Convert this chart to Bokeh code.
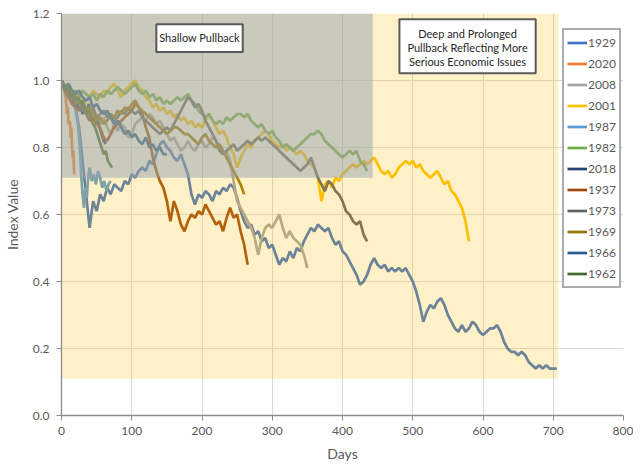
from bokeh.plotting import figure
from bokeh.models import Legend, LegendItem, Label, FixedTicker, NumeralTickFormatter, Range1d
from bokeh.embed import file_html
from bokeh.resources import INLINE

# ---------------- data ----------------
YEARS = ["1929", "2020", "2008", "2001", "1987", "1982", "2018", "1937", "1973", "1969", "1966", "1962"]
COLORS = ["#4472C4", "#ED7D31", "#A5A5A5", "#FFC000", "#5B9BD5", "#70AD47",
          "#264478", "#9E480E", "#636363", "#997300", "#255E91", "#43682B"]
X_TICKS = [0, 100, 200, 300, 400, 500, 600, 700, 800]
Y_TICKS = [0.0, 0.2, 0.4, 0.6, 0.8, 1.0, 1.2]

# index values sampled every 5 trading days
v_1929 = [1.00, 0.98, 0.95, 0.96, 0.92, 0.86, 0.76, 0.66, 0.56, 0.64,
          0.61, 0.66, 0.64, 0.68, 0.66, 0.69, 0.68, 0.67, 0.70, 0.69,
          0.72, 0.71, 0.73, 0.74, 0.73, 0.76, 0.75, 0.78, 0.81, 0.82,
          0.80, 0.79, 0.77, 0.76, 0.78, 0.75, 0.72, 0.66, 0.63, 0.66,
          0.65, 0.67, 0.66, 0.64, 0.67, 0.66, 0.68, 0.67, 0.69, 0.68,
          0.65, 0.61, 0.58, 0.56, 0.57, 0.54, 0.55, 0.52, 0.53, 0.50,
          0.51, 0.48, 0.45, 0.47, 0.46, 0.49, 0.47, 0.50, 0.49, 0.52,
          0.54, 0.56, 0.55, 0.57, 0.56, 0.55, 0.56, 0.53, 0.51, 0.52,
          0.49, 0.48, 0.46, 0.44, 0.42, 0.39, 0.40, 0.42, 0.45, 0.47,
          0.45, 0.44, 0.45, 0.43, 0.44, 0.43, 0.44, 0.43, 0.44, 0.42,
          0.40, 0.37, 0.33, 0.28, 0.31, 0.33, 0.32, 0.34, 0.35, 0.33,
          0.30, 0.28, 0.26, 0.25, 0.27, 0.25, 0.26, 0.28, 0.27, 0.25,
          0.24, 0.25, 0.26, 0.26, 0.27, 0.25, 0.22, 0.20, 0.19, 0.19,
          0.18, 0.19, 0.18, 0.16, 0.15, 0.14, 0.15, 0.14, 0.15, 0.14,
          0.14, 0.14]
v_2001 = [1.00, 0.97, 0.95, 0.96, 0.93, 0.95, 0.92, 0.94, 0.95, 0.97,
          0.96, 0.95, 0.97, 0.96, 0.98, 0.99, 0.97, 0.95, 0.97, 0.98,
          0.99, 1.00, 0.98, 0.97, 0.95, 0.94, 0.92, 0.93, 0.91, 0.92,
          0.90, 0.91, 0.89, 0.90, 0.88, 0.89, 0.87, 0.88, 0.86, 0.87,
          0.86, 0.88, 0.90, 0.88, 0.86, 0.84, 0.85, 0.83, 0.80, 0.78,
          0.74, 0.77, 0.79, 0.81, 0.80, 0.82, 0.83, 0.84, 0.85, 0.84,
          0.82, 0.81, 0.80, 0.81, 0.79, 0.80, 0.79, 0.78, 0.79, 0.78,
          0.76, 0.75, 0.74, 0.71, 0.64, 0.69, 0.70, 0.68, 0.71, 0.70,
          0.72, 0.73, 0.74, 0.75, 0.74, 0.75, 0.76, 0.75, 0.76, 0.77,
          0.75, 0.73, 0.72, 0.73, 0.71, 0.72, 0.74, 0.75, 0.76, 0.75,
          0.76, 0.74, 0.75, 0.73, 0.72, 0.71, 0.72, 0.73, 0.71, 0.69,
          0.70, 0.67, 0.66, 0.64, 0.62, 0.58, 0.52]
v_2008 = [1.00, 0.98, 0.96, 0.97, 0.94, 0.92, 0.94, 0.91, 0.89, 0.91,
          0.88, 0.87, 0.89, 0.86, 0.84, 0.87, 0.85, 0.87, 0.86, 0.83,
          0.84, 0.87, 0.88, 0.89, 0.88, 0.90, 0.89, 0.87, 0.88, 0.86,
          0.84, 0.82, 0.83, 0.81, 0.79, 0.80, 0.82, 0.80, 0.79, 0.81,
          0.82, 0.80, 0.81, 0.83, 0.82, 0.80, 0.78, 0.79, 0.76, 0.70,
          0.64, 0.62, 0.60, 0.58, 0.56, 0.53, 0.48, 0.53, 0.56, 0.57,
          0.56, 0.58, 0.60, 0.56, 0.53, 0.55, 0.53, 0.52, 0.51, 0.48,
          0.44]
v_1982 = [1.00, 0.98, 0.99, 0.96, 0.97, 0.95, 0.97, 0.96, 0.95, 0.96,
          0.94, 0.96, 0.95, 0.97, 0.96, 0.97, 0.98, 0.97, 0.96, 0.97,
          0.98, 0.99, 0.97, 0.96, 0.97, 0.95, 0.96, 0.94, 0.95, 0.93,
          0.94, 0.93, 0.94, 0.95, 0.94, 0.95, 0.96, 0.94, 0.93, 0.91,
          0.90, 0.89, 0.90, 0.88, 0.87, 0.88, 0.87, 0.89, 0.88, 0.89,
          0.90, 0.90, 0.89, 0.90, 0.88, 0.87, 0.86, 0.87, 0.85, 0.84,
          0.85, 0.83, 0.82, 0.80, 0.81, 0.80, 0.79, 0.80, 0.81, 0.82,
          0.83, 0.84, 0.84, 0.85, 0.84, 0.82, 0.81, 0.80, 0.79, 0.78,
          0.77, 0.78, 0.79, 0.78, 0.79, 0.76, 0.75, 0.73]
v_1973 = [1.00, 0.97, 0.95, 0.96, 0.93, 0.94, 0.91, 0.92, 0.90, 0.92,
          0.89, 0.90, 0.91, 0.89, 0.90, 0.88, 0.89, 0.91, 0.90, 0.92,
          0.91, 0.90, 0.91, 0.89, 0.88, 0.87, 0.86, 0.85, 0.84, 0.85,
          0.86, 0.85, 0.87, 0.89, 0.91, 0.93, 0.95, 0.94, 0.92, 0.93,
          0.91, 0.88, 0.86, 0.84, 0.82, 0.79, 0.78, 0.79, 0.80, 0.81,
          0.79, 0.80, 0.81, 0.82, 0.81, 0.82, 0.83, 0.82, 0.83, 0.82,
          0.81, 0.80, 0.79, 0.78, 0.77, 0.76, 0.75, 0.74, 0.73, 0.74,
          0.75, 0.77, 0.74, 0.71, 0.69, 0.67, 0.70, 0.69, 0.67, 0.66,
          0.64, 0.61, 0.60, 0.58, 0.57, 0.58, 0.54, 0.52]
v_1937 = [1.00, 0.97, 0.95, 0.93, 0.92, 0.91, 0.93, 0.90, 0.88, 0.89,
          0.87, 0.86, 0.83, 0.82, 0.84, 0.86, 0.87, 0.88, 0.89, 0.90,
          0.91, 0.93, 0.92, 0.90, 0.86, 0.83, 0.77, 0.73, 0.70, 0.68,
          0.64, 0.58, 0.64, 0.61, 0.57, 0.55, 0.58, 0.60, 0.59, 0.61,
          0.60, 0.63, 0.61, 0.59, 0.57, 0.58, 0.55, 0.59, 0.62, 0.59,
          0.60, 0.55, 0.51, 0.45]
v_1969 = [1.00, 0.98, 0.96, 0.97, 0.95, 0.93, 0.94, 0.91, 0.92, 0.90,
          0.88, 0.89, 0.87, 0.88, 0.90, 0.89, 0.91, 0.90, 0.92, 0.91,
          0.93, 0.94, 0.92, 0.91, 0.90, 0.89, 0.88, 0.87, 0.86, 0.85,
          0.84, 0.85, 0.86, 0.86, 0.85, 0.84, 0.84, 0.83, 0.82, 0.81,
          0.83, 0.84, 0.82, 0.81, 0.80, 0.81, 0.79, 0.77, 0.75, 0.73,
          0.71, 0.69, 0.66]
v_1966 = [1.00, 0.98, 0.99, 0.97, 0.96, 0.97, 0.95, 0.94, 0.95, 0.92,
          0.93, 0.91, 0.90, 0.91, 0.89, 0.87, 0.88, 0.86, 0.84, 0.85,
          0.83, 0.84, 0.82, 0.81, 0.83, 0.80, 0.81, 0.79, 0.80, 0.78,
          0.78]
# index values sampled every 3 trading days
v_2018 = [1.00, 0.99, 0.97, 0.98, 0.95, 0.96, 0.93, 0.94, 0.91, 0.92,
          0.90, 0.92, 0.91, 0.93, 0.90, 0.91, 0.88, 0.89, 0.86, 0.84,
          0.82, 0.81]
v_1962 = [1.00, 0.99, 0.97, 0.98, 0.96, 0.95, 0.96, 0.94, 0.95, 0.93,
          0.94, 0.92, 0.90, 0.91, 0.89, 0.87, 0.86, 0.84, 0.82, 0.80,
          0.78, 0.79, 0.76, 0.75, 0.74]
# irregularly sampled short series
d_2020 = [0, 2, 4, 6, 8, 9, 10, 12, 13, 14, 15, 16, 17, 18]
v_2020 = [1.00, 0.98, 0.97, 0.95, 0.90, 0.92, 0.87, 0.88, 0.83, 0.86, 0.80, 0.77, 0.79, 0.72]
d_1987 = [0, 3, 6, 9, 12, 15, 18, 21, 24, 26, 28, 30, 32, 34, 36, 38, 40, 43, 46, 49,
          52, 55, 58, 61, 64, 67, 70]
v_1987 = [1.00, 0.98, 0.97, 0.95, 0.96, 0.93, 0.94, 0.90, 0.86, 0.80, 0.72, 0.66, 0.62, 0.68,
          0.65, 0.71, 0.74, 0.70, 0.72, 0.69, 0.73, 0.71, 0.68, 0.70, 0.67, 0.69, 0.70]


def every(step, vals):
    return [i * step for i in range(len(vals))]


SERIES = {
    "1929": (every(5, v_1929), v_1929),
    "2020": (d_2020, v_2020),
    "2008": (every(5, v_2008), v_2008),
    "2001": (every(5, v_2001), v_2001),
    "1987": (d_1987, v_1987),
    "1982": (every(5, v_1982), v_1982),
    "2018": (every(3, v_2018), v_2018),
    "1937": (every(5, v_1937), v_1937),
    "1973": (every(5, v_1973), v_1973),
    "1969": (every(5, v_1969), v_1969),
    "1966": (every(5, v_1966), v_1966),
    "1962": (every(3, v_1962), v_1962),
}

FONT = "Lato"
TXT = "#595959"

p = figure(frame_width=562, frame_height=402, min_border_left=52, min_border_right=10,
           min_border_top=13, min_border_bottom=42, output_backend="svg",
           toolbar_location=None, x_range=Range1d(0, 800), y_range=Range1d(0, 1.2))
p.outline_line_color = None
p.background_fill_color = "white"
p.border_fill_color = "white"

items = []
for year, color in zip(YEARS, COLORS):
    xs, ys = SERIES[year]
    r = p.line(xs, ys, line_color=color, line_width=2.7)
    items.append(LegendItem(label=year, renderers=[r]))

# translucent shaded zones drawn on top of the lines
p.quad(left=0, right=707, bottom=0.11, top=1.2, fill_color="#FFC000", fill_alpha=0.22, line_color=None)
p.quad(left=0, right=443, bottom=0.71, top=1.2, fill_color="#93A1B1", fill_alpha=0.5, line_color=None)

# annotation boxes
p.quad(left=135, right=258, bottom=1.085, top=1.168, fill_color="white",
       line_color="#595959", line_width=2)
p.quad(left=481, right=675, bottom=1.022, top=1.183, fill_color="white",
       line_color="#595959", line_width=2)
p.add_layout(Label(x=196.5, y=1.127, text="Shallow Pullback", text_align="center",
                   text_baseline="middle", text_font=FONT, text_font_size="11px",
                   text_color="#262626"))
for yy, t in [(1.141, "Deep and Prolonged"), (1.099, "Pullback Reflecting More"),
              (1.057, "Serious Economic Issues")]:
    p.add_layout(Label(x=578, y=yy, text=t, text_align="center", text_baseline="middle",
                       text_font=FONT, text_font_size="11px", text_color="#262626"))

# axes
for ax in (p.xaxis[0], p.yaxis[0]):
    ax.axis_line_color = "#8C8C8C"
    ax.axis_line_width = 1.3
    ax.major_tick_line_color = "#8C8C8C"
    ax.major_tick_out = 5
    ax.major_tick_in = 0
    ax.minor_tick_line_color = None
    ax.major_label_text_font = FONT
    ax.major_label_text_font_size = "12px"
    ax.major_label_text_color = TXT
    ax.axis_label_text_font = FONT
    ax.axis_label_text_font_size = "14px"
    ax.axis_label_text_font_style = "normal"
    ax.axis_label_text_color = TXT

p.xaxis.ticker = FixedTicker(ticks=X_TICKS)
p.yaxis.ticker = FixedTicker(ticks=Y_TICKS)
p.yaxis.formatter = NumeralTickFormatter(format="0.0")
p.xaxis.axis_label = "Days"
p.yaxis.axis_label = "Index Value"
p.xaxis.major_label_standoff = 6
p.yaxis.major_label_standoff = 7
p.xaxis.axis_label_standoff = 7
p.yaxis.axis_label_standoff = 9

p.xgrid.grid_line_color = "#D9D9D9"
p.ygrid.grid_line_color = "#D9D9D9"

legend = Legend(items=items, location=(501, 127), orientation="vertical")
legend.label_text_font = FONT
legend.label_text_font_size = "12px"
legend.label_text_color = TXT
legend.glyph_width = 20
legend.glyph_height = 19
legend.label_height = 19
legend.spacing = 2
legend.padding = 3
legend.margin = 0
legend.label_standoff = 1
legend.border_line_color = "#595959"
legend.border_line_width = 2
legend.background_fill_color = "white"
legend.background_fill_alpha = 1
p.add_layout(legend)

open("out.html", "w").write(file_html(p, INLINE))
